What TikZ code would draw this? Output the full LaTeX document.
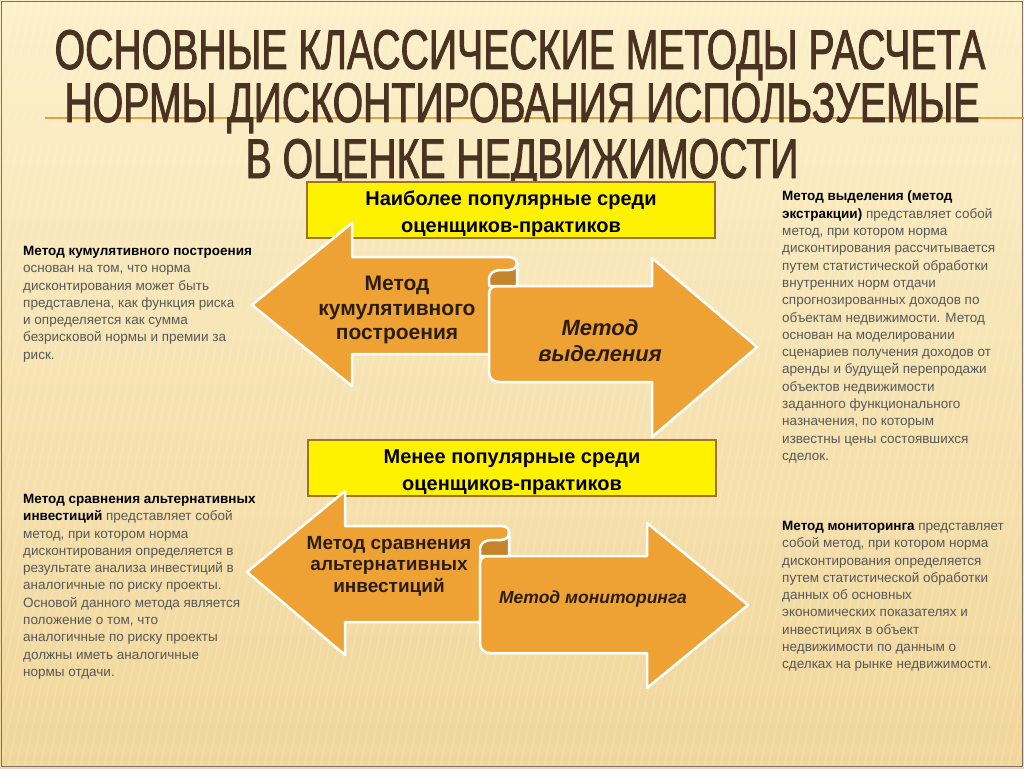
\documentclass[tikz,border=0pt]{standalone}
\usepackage{fontspec}
\setmainfont{Liberation Sans}
\newfontfamily\titlefont[FakeStretch=0.70, FakeBold=1.5]{Liberation Sans}
\usetikzlibrary{positioning}

\definecolor{bgtop}{HTML}{FCF0CA}
\definecolor{bgbottom}{HTML}{F1D69A}
\definecolor{titlebrown}{HTML}{4A3222}
\definecolor{arroworange}{HTML}{EFA234}
\definecolor{folddark}{HTML}{C6842A}
\definecolor{boxborder}{HTML}{9C7424}
\definecolor{bodygrey}{HTML}{575757}
\definecolor{ruleorange}{HTML}{E3A03E}
\definecolor{labeldark}{HTML}{2B1D0E}

\tikzset{
  arrowshape/.style={fill=arroworange, draw=white, line width=2.5pt, line join=round},
  foldshape/.style={fill=folddark, draw=white, line width=2.5pt, line join=round},
  groupbox/.style={rectangle, draw=boxborder, line width=2pt, fill=yellow, minimum width=408pt, minimum height=56pt},
  boxlabel/.style={align=center, inner sep=0pt, font=\fontsize{20}{27}\selectfont\bfseries},
  arrowlabel/.style={align=center, text=labeldark, inner sep=0pt, font=\fontsize{21}{24.5}\selectfont\bfseries},
  sidetext/.style={anchor=north west, align=left, inner sep=0pt, text=bodygrey, font=\fontsize{13.5}{17.3}\selectfont},
  titleline/.style={anchor=base, text=titlebrown, inner sep=0pt, font=\titlefont\fontsize{56}{56}\selectfont}
}

\begin{document}
\begin{tikzpicture}[x=1pt, y=-1pt]
  \useasboundingbox (0,0) rectangle (1024,768);
  % background
  \shade[top color=bgtop, bottom color=bgbottom] (0,0) rectangle (1024,768);
  \foreach \s in {-200,-192,...,1100}
    \draw[white, opacity=0.15, line width=1.5pt] (\s,768) -- (\s+160,0);
  \draw[titlebrown!70, line width=1pt] (1.5,1.5) rectangle (1022.5,766.5);
  \draw[ruleorange, line width=1.5pt] (45,118) -- (1024,118);

  % title
  \node[titleline] (title1) at (520,69) {ОСНОВНЫЕ КЛАССИЧЕСКИЕ МЕТОДЫ РАСЧЕТА};
  \node[titleline] (title2) at (522,122) {НОРМЫ ДИСКОНТИРОВАНИЯ ИСПОЛЬЗУЕМЫЕ};
  \node[titleline] (title3) at (522,178) {В ОЦЕНКЕ НЕДВИЖИМОСТИ};

  % popular pair
  \node[groupbox] (popBox) at (511,210) {};
  \node[boxlabel] (popText) at (511,214) {Наиболее популярные среди\\оценщиков-практиков};
  \draw[arrowshape] (252,305) -- (352,223) -- (352,257) -- (507,257) .. controls (513,257) and (517,259) .. (517,264) -- (517,290) -- (490,290) -- (490,354) -- (352,354) -- (352,386) -- cycle;
  \draw[arrowshape] (497,286) -- (652,286) -- (652,258) -- (757,347) -- (652,437) -- (652,382) -- (499,382) .. controls (493,382) and (489,378) .. (489,372) -- (489,294) .. controls (489,289) and (492,286) .. (497,286) -- cycle;
  \draw[foldshape] (489,286) -- (489,280) .. controls (489,273) and (494,270) .. (501,270) -- (509,270) .. controls (514,270) and (517,267) .. (517,262) -- (517,286) -- cycle;
  \node[arrowlabel] (cumLabel) at (397,310) {Метод\\кумулятивного\\построения};
  \node[arrowlabel, font=\fontsize{22}{26}\selectfont\bfseries\itshape] (extrLabel) at (600,341) {Метод\\выделения};

  % less popular pair
  \node[groupbox] (lessBox) at (512,468) {};
  \node[boxlabel] (lessText) at (512,472) {Менее популярные среди\\оценщиков-практиков};
  \draw[arrowshape] (247,572) -- (345,491) -- (345,526) -- (501,526) .. controls (507,526) and (509,529) .. (509,533) -- (509,558) -- (480,558) -- (480,622) -- (345,622) -- (345,655) -- cycle;
  \draw[arrowshape] (488,556) -- (647,556) -- (647,523) -- (748,605) -- (647,688) -- (647,653) -- (490,653) .. controls (484,653) and (480,649) .. (480,643) -- (480,564) .. controls (480,559) and (483,556) .. (488,556) -- cycle;
  \draw[foldshape] (480,556) -- (480,550) .. controls (480,543) and (485,540) .. (492,540) -- (501,540) .. controls (506,540) and (509,537) .. (509,532) -- (509,556) -- cycle;
  \node[arrowlabel, font=\fontsize{19}{21.5}\selectfont\bfseries] (altLabel) at (389,566) {Метод сравнения\\альтернативных\\инвестиций};
  \node[arrowlabel, font=\fontsize{17.5}{21}\selectfont\bfseries\itshape] (monLabel) at (593,599) {Метод мониторинга};

  % side notes
  \node[sidetext] (cumText) at (23,246) {\textcolor{black}{\bfseries Метод кумулятивного построения}\\
    основан на том, что норма\\
    дисконтирования может быть\\
    представлена, как функция риска\\
    и определяется как сумма\\
    безрисковой нормы и премии за\\
    риск.};
  \node[sidetext] (altText) at (23,494) {\textcolor{black}{\bfseries Метод сравнения альтернативных}\\
    \textcolor{black}{\bfseries инвестиций} представляет собой\\
    метод, при котором норма\\
    дисконтирования определяется в\\
    результате анализа инвестиций в\\
    аналогичные по риску проекты.\\
    Основой данного метода является\\
    положение о том, что\\
    аналогичные по риску проекты\\
    должны иметь аналогичные\\
    нормы отдачи.};
  \node[sidetext] (extrText) at (782,191) {\textcolor{black}{\bfseries Метод выделения (метод}\\
    \textcolor{black}{\bfseries экстракции)} представляет собой\\
    метод, при котором норма\\
    дисконтирования рассчитывается\\
    путем статистической обработки\\
    внутренних норм отдачи\\
    спрогнозированных доходов по\\
    объектам недвижимости. Метод\\
    основан на моделировании\\
    сценариев получения доходов от\\
    аренды и будущей перепродажи\\
    объектов недвижимости\\
    заданного функционального\\
    назначения, по которым\\
    известны цены состоявшихся\\
    сделок.};
  \node[sidetext] (monText) at (782,521) {\textcolor{black}{\bfseries Метод мониторинга} представляет\\
    собой метод, при котором норма\\
    дисконтирования определяется\\
    путем статистической обработки\\
    данных об основных\\
    экономических показателях и\\
    инвестициях в объект\\
    недвижимости по данным о\\
    сделках на рынке недвижимости.};
\end{tikzpicture}
\end{document}
